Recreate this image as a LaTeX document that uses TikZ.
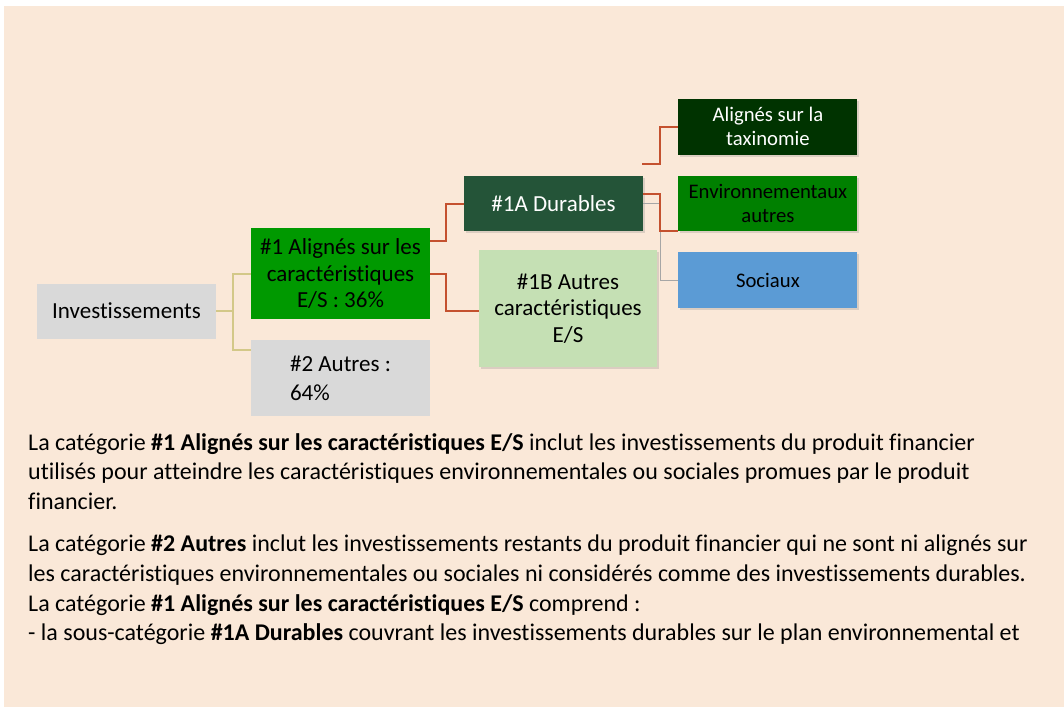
\documentclass[tikz,border=0pt]{standalone}
\usepackage{fontspec}
\setmainfont{Carlito}[Ligatures={NoCommon}]
\usepackage{xcolor}
\usetikzlibrary{positioning,shadows}

\definecolor{fondbeige}{HTML}{FAE8D8}
\definecolor{grisbox}{HTML}{D9D9D9}
\definecolor{vertun}{HTML}{009900}
\definecolor{vertdurable}{HTML}{245438}
\definecolor{vertclair}{HTML}{C5E0B4}
\definecolor{vertfonce}{HTML}{003300}
\definecolor{vertenv}{HTML}{008000}
\definecolor{bleusoc}{HTML}{5B9BD5}
\definecolor{lienkaki}{HTML}{D3C888}
\definecolor{lienrouge}{HTML}{C4512F}
\definecolor{liengris}{HTML}{A6A6A6}

\tikzset{
  boite/.style={rectangle, inner sep=2pt, minimum width=179pt, align=center, font=\fontsize{23}{26.5}\selectfont},
  petite/.style={font=\fontsize{20.7}{24}\selectfont},
  ombre/.style={drop shadow={opacity=0.25, shadow xshift=2pt, shadow yshift=-2pt}},
  lien/.style={line width=2pt}
}

\begin{document}
\begin{tikzpicture}[x=1pt,y=-1pt]
	\useasboundingbox (0,0) rectangle (1064,713);
	\fill[white] (0,0) rectangle (1064,713);
	\fill[fondbeige] (4,6) rectangle (1064,707);

	% arbre
	\node[boite, fill=grisbox, minimum height=55pt] (inv) at (126.5,311) {Investissements};
	\node[boite, fill=vertun, minimum height=91pt] (un) at (340.5,273.5) {\#1 Alignés sur les\\caractéristiques\\E/S : 36\%};
	\node[boite, fill=grisbox, minimum height=76pt, align=left, font=\fontsize{23}{29}\selectfont] (deux) at (340.5,378) {\#2 Autres :\\64\%};
	\node[boite, ombre, fill=vertdurable, text=white, minimum height=55pt] (dur) at (553.5,203.5) {\#1A Durables};
	\node[boite, ombre, fill=vertclair, minimum width=178pt, minimum height=117pt] (unb) at (568,308.5) {\#1B Autres\\caractéristiques\\E/S};
	\node[boite, petite, ombre, fill=vertenv, minimum height=55pt] (env) [right=35pt of dur] {Environnementaux\\autres};
	\node[boite, petite, ombre, fill=vertfonce, text=white, minimum height=56pt] (tax) [above=21pt of env] {Alignés sur la\\taxinomie};
	\node[boite, petite, ombre, fill=bleusoc, minimum height=56pt] (soc) [below=21pt of env] {Sociaux};
	\coordinate (taxdep) at (642,164);

	% liens
	\draw[lien, lienkaki] (inv.east) -- ++(17,0) coordinate (kaki);
	\draw[lien, lienkaki] (un.west) -| (kaki) |- ([yshift=-10pt]deux.north west);
	\draw[lien, lienrouge] ([yshift=-13.5pt]un.north east) -- ++(16,0) |- (dur.west);
	\draw[lien, lienrouge] (un.east) -- ++(16,0) |- ([yshift=-2.5pt]unb.west);
	\draw[liengris, line width=1.3pt] (dur.east) -- ++(17,0) |- (soc.west);
	\draw[lien, lienrouge] ([yshift=9.5pt]dur.east) -- ++(17,0) |- (env.south west);
	\draw[lien, lienrouge] (taxdep) -- ++(18,0) |- (tax.west);

	% texte
	\node[anchor=north west, align=left, inner sep=0pt, font=\fontsize{24}{29.8}\selectfont] (texte) at (28,433) {%
		La catégorie \textbf{\#1 Alignés sur les caractéristiques E/S} inclut les investissements du produit financier\\
		utilisés pour atteindre les caractéristiques environnementales ou sociales promues par le produit\\
		financier.\\[12pt]
		La catégorie \textbf{\#2 Autres} inclut les investissements restants du produit financier qui ne sont ni alignés sur\\
		les caractéristiques environnementales ou sociales ni considérés comme des investissements durables.\\
		La catégorie \textbf{\#1 Alignés sur les caractéristiques E/S} comprend :\\
		- la sous-catégorie \textbf{\#1A Durables} couvrant les investissements durables sur le plan environnemental et};
\end{tikzpicture}
\end{document}
